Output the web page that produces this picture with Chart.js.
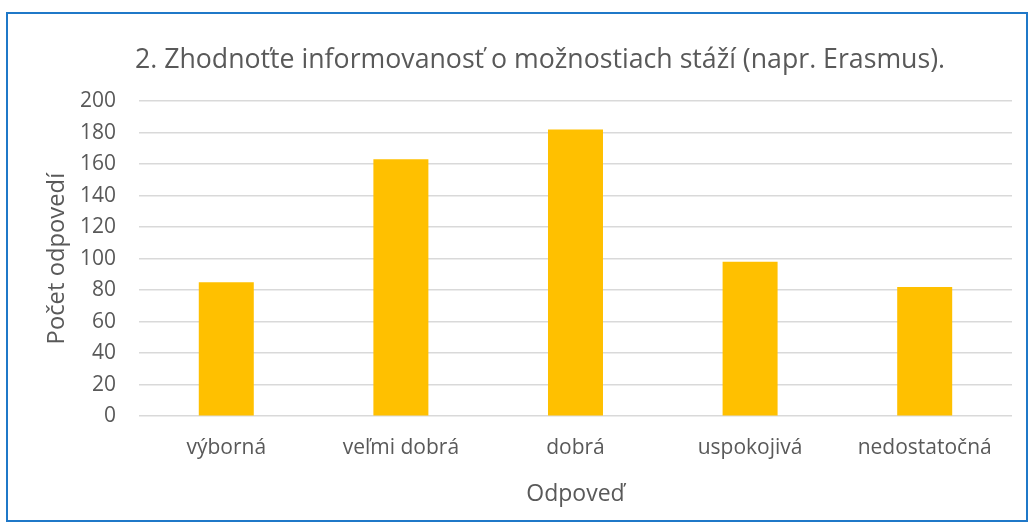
<!DOCTYPE html>
<html>
<head>
<meta charset="utf-8">
<script src="https://cdn.jsdelivr.net/npm/chart.js@4.4.0/dist/chart.umd.min.js"></script>
<style>
  body { margin: 0; background: #fff; }
  #wrap { position: absolute; left: 0; top: 0; width: 1033px; height: 528px; }
  #frame { position: absolute; left: 6px; top: 12px; width: 1018px; height: 506px; border: 2px solid #1F78C8; pointer-events: none; }
</style>
</head>
<body>
<div id="wrap">
  <canvas id="graf" width="1033" height="528"></canvas>
  <div id="frame"></div>
</div>
<script>
const odpovede = ['výborná', 'veľmi dobrá', 'dobrá', 'uspokojivá', 'nedostatočná'];
const pocty = [85, 163, 182, 98, 82];
const yTicks = [0, 20, 40, 60, 80, 100, 120, 140, 160, 180, 200];

const font = '"Open Sans", "Liberation Sans", sans-serif';
const sivaText = '#595959';

const ctx = document.getElementById('graf').getContext('2d');
new Chart(ctx, {
    type: 'bar',
    data: {
        labels: odpovede,
        datasets: [{
            label: 'Počet odpovedí',
            data: pocty,
            backgroundColor: '#FFC000',
            borderWidth: 0,
            barPercentage: 0.63,
            categoryPercentage: 0.5
        }]
    },
    options: {
        responsive: false,
        animation: false,
        // title centred between left padding and right edge of plot
        layout: { padding: { left: 68, right: 21, top: 44, bottom: 32 } },
        plugins: {
            legend: { display: false },
            tooltip: { enabled: false },
            title: {
                display: true,
                text: '2. Zhodnoťte informovanosť o možnostiach stáží (napr. Erasmus).',
                color: sivaText,
                font: { family: font, size: 26.7, weight: 'normal' },
                padding: { top: 0, bottom: 25 }
            }
        },
        scales: {
            x: {
                grid: { display: false, drawTicks: false },
                border: { display: false },
                ticks: { color: sivaText, font: { family: font, size: 21 }, padding: 19.4 },
                title: {
                    display: true,
                    text: 'Odpoveď',
                    color: sivaText,
                    font: { family: font, size: 23 },
                    padding: { top: 0, bottom: -11.8 }
                }
            },
            y: {
                min: 0,
                max: 200,
                afterBuildTicks: axis => { axis.ticks = yTicks.map(v => ({ value: v })); },
                grid: { color: '#D9D9D9', lineWidth: 1.5, drawTicks: false },
                border: { display: false },
                ticks: { color: sivaText, font: { family: font, size: 21 }, padding: 23 },
                title: {
                    display: true,
                    text: 'Počet odpovedí',
                    color: sivaText,
                    font: { family: font, size: 23.8 },
                    padding: { top: -24.8, bottom: -14.8 }
                }
            }
        }
    }
});
</script>
</body>
</html>
